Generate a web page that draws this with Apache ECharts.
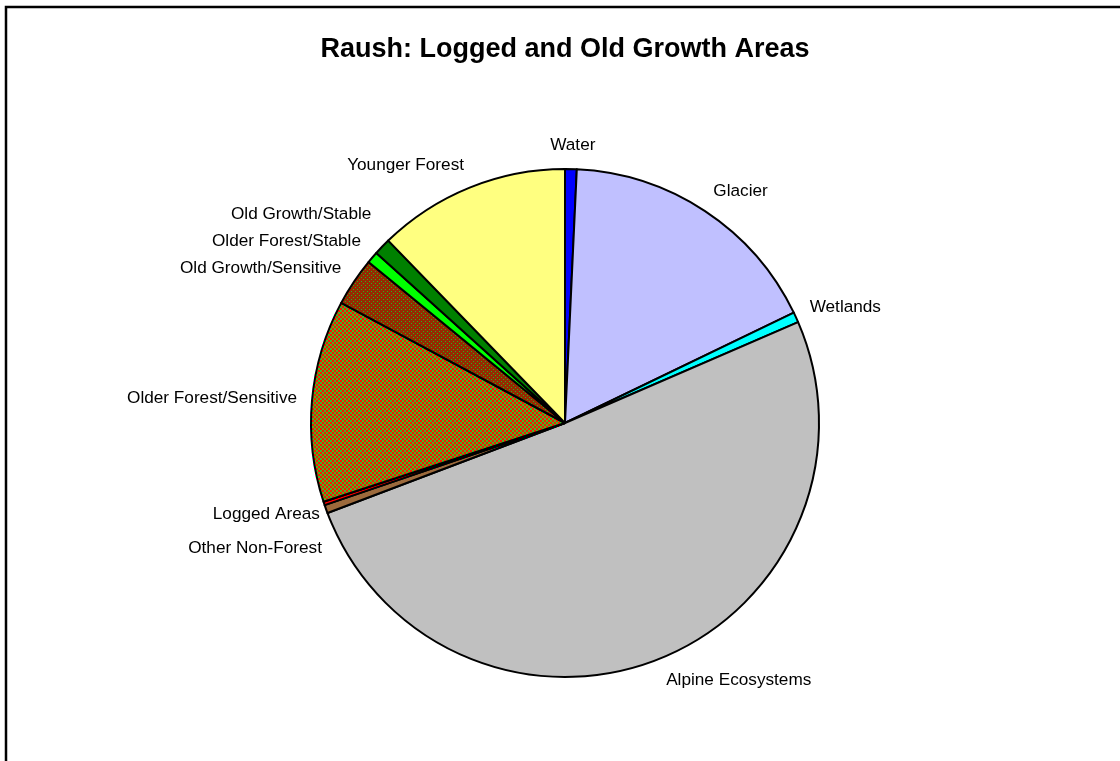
<!DOCTYPE html>
<html>
<head>
<meta charset="utf-8">
<script src="https://cdn.jsdelivr.net/npm/echarts@6/dist/echarts.min.js"></script>
<style>
  html, body { margin: 0; padding: 0; background: #fff; }
</style>
</head>
<body>
<!-- chart container -->
<div id="container" style="width: 1120px; height: 761px"></div>
<script>
// categories, clockwise from 12 o'clock
const categories = [
  'Water', 'Glacier', 'Wetlands', 'Alpine Ecosystems', 'Other Non-Forest',
  'Logged Areas', 'Older Forest/Sensitive', 'Old Growth/Sensitive',
  'Older Forest/Stable', 'Old Growth/Stable', 'Younger Forest'
]
// share of area (%)
const shares = [0.74, 17.11, 0.65, 50.74, 0.53, 0.22, 12.86, 3.08, 0.75, 1.08, 12.25]

const CX = 565, CY = 423, R = 254
const FONT = '"Liberation Sans", Arial, sans-serif'
const LABEL_SIZE = 17.2

// small tiled patterns for the two hatched slices
function makePattern (size, bg, dots) {
  const c = document.createElement('canvas')
  c.width = size; c.height = size
  const ctx = c.getContext('2d')
  ctx.fillStyle = bg
  ctx.fillRect(0, 0, size, size)
  dots.forEach(d => { ctx.fillStyle = d[4]; ctx.fillRect(d[0], d[1], d[2], d[3]) })
  return { image: c, repeat: 'repeat' }
}
const checkRedGreen = makePattern(4, '#f81800', [[2, 0, 2, 2, '#40b828'], [0, 2, 2, 2, '#40b828']])
const redDotted = makePattern(4, '#962a00', [[1, 1, 1, 1, '#30b020'], [3, 3, 1, 1, '#30b020']])

const colors = [
  '#0000ff', '#c0c0ff', '#00ffff', '#c0c0c0', '#9c6a3c', '#ff0000',
  checkRedGreen, redDotted, '#00ff00', '#008000', '#ffff80'
]

// label placement: just outside the rim at each slice's middle angle
const measure = document.createElement('canvas').getContext('2d')
measure.font = LABEL_SIZE + 'px ' + FONT
const total = shares.reduce((a, b) => a + b, 0)
let acc = 0
const labelPos = shares.map((v, i) => {
  const mid = (acc + v / 2) / total * Math.PI * 2
  acc += v
  const dx = Math.sin(mid), dy = -Math.cos(mid)
  const w = measure.measureText(categories[i]).width
  const h = LABEL_SIZE
  const ax = CX + (R + 15) * dx, ay = CY + (R + 15) * dy
  return {
    x: ax + Math.sign(dx) * Math.min(1, Math.abs(dx) * 3) * w / 2,
    y: ay + dy * h / 2,
    left: dx < 0
  }
})
// push crowded labels on the left side apart
const upper = labelPos.filter(p => p.left && p.y < CY).sort((a, b) => b.y - a.y)
for (let i = 1; i < upper.length; i++) {
  if (upper[i].y > upper[i - 1].y - 27) upper[i].y = upper[i - 1].y - 27
}
const lower = labelPos.filter(p => p.left && p.y >= CY).sort((a, b) => a.y - b.y)
for (let i = 1; i < lower.length; i++) {
  if (lower[i].y < lower[i - 1].y + 34) lower[i].y = lower[i - 1].y + 34
}
if (lower.length) { lower.forEach(p => { p.y += 3; p.x += 10 }) }

const myChart = echarts.init(document.getElementById('container'))
const option = {
  animation: false,
  title: {
    text: 'Raush: Logged and Old Growth Areas',
    left: 565,
    top: 36,
    padding: 0,
    textAlign: 'center',
    textStyle: { fontFamily: FONT, fontSize: 27, fontWeight: 'bold', color: '#000' }
  },
  // chart frame, cut off at right and bottom like the reference
  graphic: [{
    type: 'rect',
    shape: { x: 6, y: 7, width: 1300, height: 900 },
    style: { fill: 'none', stroke: '#000', lineWidth: 2.5 }
  }],
  series: [{
    type: 'pie',
    center: [CX, CY],
    radius: R,
    startAngle: 90,
    clockwise: true,
    avoidLabelOverlap: false,
    data: categories.map((name, i) => ({
      name: name,
      value: shares[i],
      itemStyle: { color: colors[i] }
    })),
    itemStyle: { borderColor: '#000', borderWidth: 2 },
    label: {
      show: true,
      position: 'outside',
      formatter: '{b}',
      fontFamily: FONT,
      fontSize: LABEL_SIZE,
      color: '#000'
    },
    labelLine: { show: false },
    labelLayout: (params) => {
      const p = labelPos[params.dataIndex]
      return { x: p.x, y: p.y, align: 'center', verticalAlign: 'middle' }
    },
    emphasis: { disabled: true }
  }]
}
myChart.setOption(option)
</script>
</body>
</html>
